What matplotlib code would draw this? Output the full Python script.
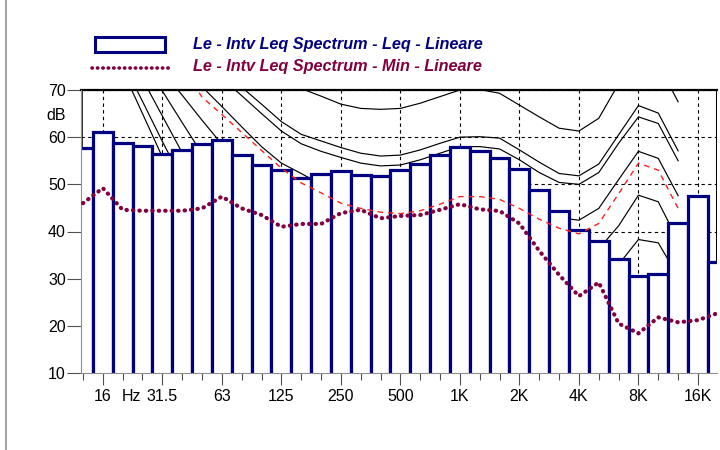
import numpy as np
import matplotlib
matplotlib.use("Agg")
import matplotlib.pyplot as plt
from matplotlib.patches import Rectangle
from matplotlib.lines import Line2D
from matplotlib import transforms

plt.rcParams['font.family'] = ['Liberation Sans', 'DejaVu Sans']

nan = np.nan
# 1/3-octave bands (index 0 = 12.5 Hz ... 32 = 20 kHz)
bands = ['12.5', '16', '20', '25', '31.5', '40', '50', '63', '80', '100', '125', '160',
         '200', '250', '315', '400', '500', '630', '800', '1K', '1.25K', '1.6K', '2K',
         '2.5K', '3.15K', '4K', '5K', '6.3K', '8K', '10K', '12.5K', '16K', '20K']
octave_labels = ['16', '31.5', '63', '125', '250', '500', '1K', '2K', '4K', '8K', '16K']

leq = [57.8, 61.0, 58.7, 58.1, 56.4, 57.2, 58.5, 59.5, 56.2, 54.0, 53.0, 51.3, 52.1,
       52.8, 52.0, 51.8, 53.1, 54.3, 56.2, 57.85, 57.0, 55.5, 53.2, 48.8, 44.35, 40.3,
       38.0, 34.2, 30.5, 31.05, 41.7, 47.5, 33.5]
lmin = [46.0, 49.2, 44.6, 44.4, 44.4, 44.4, 44.9, 47.4, 44.9, 43.5, 41.0, 41.6, 41.6,
        43.9, 44.6, 42.8, 43.3, 43.5, 44.6, 45.8, 44.7, 44.35, 41.7, 35.9, 30.8, 26.3,
        29.2, 20.5, 18.4, 21.8, 20.75, 21.2, 22.7]

# reference curves (values per band index 0..30, nan = not drawn)
curve1 = [nan]*10 + [74.0, 70.3, 68.7, 67.0, 66.1, 65.9, 66.1, 67.2, 68.6, 70.0, 70.1,
                     69.3, 66.8, 64.3, 61.9, 61.3, 64.0, 71.3, 77.0, 75.5, 67.5]
curve2 = [nan]*7 + [74.5, 70.6, 67.0, 63.3, 60.6, 59.2, 57.8, 56.6, 56.0, 56.2, 57.3,
                    58.7, 60.0, 60.1, 59.8, 57.3, 54.7, 52.3, 51.8, 54.3, 60.5, 66.7,
                    65.1, 57.1]
curve3 = [nan]*7 + [72.5, 68.8, 65.0, 61.3, 58.6, 57.0, 55.7, 54.5, 53.9, 54.1, 55.2,
                    56.6, 58.0, 58.0, 57.5, 55.2, 52.5, 50.4, 50.0, 52.5, 58.7, 64.3,
                    62.9, 55.0]
curve4 = [nan]*5 + [75.0, 70.7, 66.5, 62.2, 58.0, 54.5, 52.3, 50.0, 48.3, 47.0, 46.4,
                    46.6, 47.7, 49.1, 50.5, 50.5, 50.0, 47.7, 45.0, 42.9, 42.4, 44.9,
                    51.0, 57.0, 55.5, 47.6]
curve5 = [nan]*4 + [74.0, 68.9, 63.6, 58.5, 54.5, 51.0, 48.0, 45.5, 43.5, 41.5, 40.0,
                    39.0, 38.8, 39.5, 40.5, 41.5, 41.5, 41.0, 38.7, 36.0, 34.0, 33.4,
                    36.3, 41.2, 47.7, 46.3, 38.0]
curve6 = [nan]*3 + [76.5, 69.8, 63.1, 56.5, 51.5, 47.5, 44.5, 42.0, 39.5, 37.5, 35.5,
                    34.0, 33.0, 32.5, 33.0, 34.0, 35.0, 35.0, 34.5, 32.0, 29.5, 27.5,
                    26.5, 28.0, 33.0, 38.3, 37.6, 30.4]
curve7 = [nan]*3 + [72.3, 64.5, 56.7, 50.0, 46.0, 43.0]
curve8 = [nan]*2 + [76.0, 67.6, 59.1, 51.0, 45.0]
curve9 = [nan]*2 + [74.2, 65.0, 55.8, 48.0, 42.0]
red_curve = [nan]*5 + [75.0, 68.5, 64.8, 61.0, 57.2, 53.4, 50.3, 48.2, 46.0, 44.9, 44.1,
                       43.8, 44.4, 45.8, 47.4, 47.4, 46.8, 44.9, 42.6, 40.7, 39.5, 41.7,
                       48.0, 54.5, 53.0, 44.9]

NAVY = '#000080'
MAROON = '#800040'

fig = plt.figure(figsize=(7.2, 4.5), dpi=100)
ax = fig.add_axes([81/720, 77/450, 636/720, 283/450])

x = np.arange(len(bands))

# frame behind bars
ax.add_line(Line2D([0, 1], [1, 1], transform=ax.transAxes, color='black', lw=1.6,
                   zorder=0.6, clip_on=False))
ax.add_line(Line2D([0, 0], [0, 1], transform=ax.transAxes, color='black', lw=2.6,
                   zorder=0.6))
ax.add_line(Line2D([1, 1], [0, 1], transform=ax.transAxes, color='black', lw=2.2,
                   zorder=0.6))

# reference curves (behind bars)
for c in [curve1, curve2, curve3, curve4, curve5, curve6, curve7, curve8, curve9]:
    ax.plot(np.arange(len(c)), c, color='black', lw=0.85, zorder=1)

# bars
ax.bar(x, leq, width=1.0, bottom=0, color='white', edgecolor=NAVY,
       linewidth=2.3, zorder=2)

# red dashed curve
ax.plot(np.arange(len(red_curve)), red_curve, color='#ff2020', lw=1.0,
        linestyle=(0, (4, 3.5)), zorder=3)

# min line
ax.plot(x, lmin, color=MAROON, lw=3.0, linestyle=(0, (0.1, 1.45)),
        dash_capstyle='round', zorder=4)

ax.set_xlim(-0.1, 31.96)
ax.set_ylim(10, 70)

major_idx = [1, 4, 7, 10, 13, 16, 19, 22, 25, 28, 31]
ax.set_xticks(major_idx)
ax.set_xticklabels(octave_labels)
ax.set_xticks(np.arange(0, 32), minor=True)
ax.set_yticks(np.arange(10, 71, 10))
ax.tick_params(axis='x', which='major', length=8.5, width=0.8, color='#505050',
               labelsize=11.5, pad=3)
ax.tick_params(axis='x', which='minor', length=5, width=0.8, color='#505050')
ax.tick_params(axis='y', which='major', length=10, width=0.8, color='#505050',
               labelsize=11.5, pad=1)

ax.set_axisbelow(True)
ax.grid(True, which='major', color='black', lw=0.8, linestyle=(0, (3, 3)))

for s in ['top', 'right']:
    ax.spines[s].set_visible(False)
for s in ['left', 'bottom']:
    ax.spines[s].set_color('#909090')
    ax.spines[s].set_linewidth(0.8)
    ax.spines[s].set_zorder(2.5)

# "Hz" label beside the 16 Hz label
off = transforms.offset_copy(ax.get_xaxis_transform(), fig=fig, x=0, y=-11.5,
                             units='points')
ax.text(2.42, 0, 'Hz', transform=off, ha='center', va='top', fontsize=11.5)

# dB label
fig.text(66/720, 1 - 115/450, 'dB', ha='right', va='center', fontsize=11.5)

# legend
fig.add_artist(Rectangle((95/720, 1 - 52/450), 70/720, 15/450, transform=fig.transFigure,
                         facecolor='white', edgecolor=NAVY, lw=2.2))
fig.add_artist(Line2D([92/720, 172/720], [1 - 68/450, 1 - 68/450], transform=fig.transFigure,
                      color=MAROON, lw=2.6, linestyle=(0, (0.1, 1.4)),
                      dash_capstyle='round'))
fig.text(193/720, 1 - 44/450, 'Le - Intv Leq Spectrum - Leq - Lineare', color=NAVY,
         fontsize=11.7, fontweight='bold', style='italic', va='center')
fig.text(193/720, 1 - 67/450, 'Le - Intv Leq Spectrum - Min - Lineare', color=MAROON,
         fontsize=11.7, fontweight='bold', style='italic', va='center')

# left gray border
fig.add_artist(Line2D([5.5/720, 5.5/720], [0, 1], transform=fig.transFigure,
                      color='#909090', lw=1.2))

fig.savefig('out.png', dpi=100)
